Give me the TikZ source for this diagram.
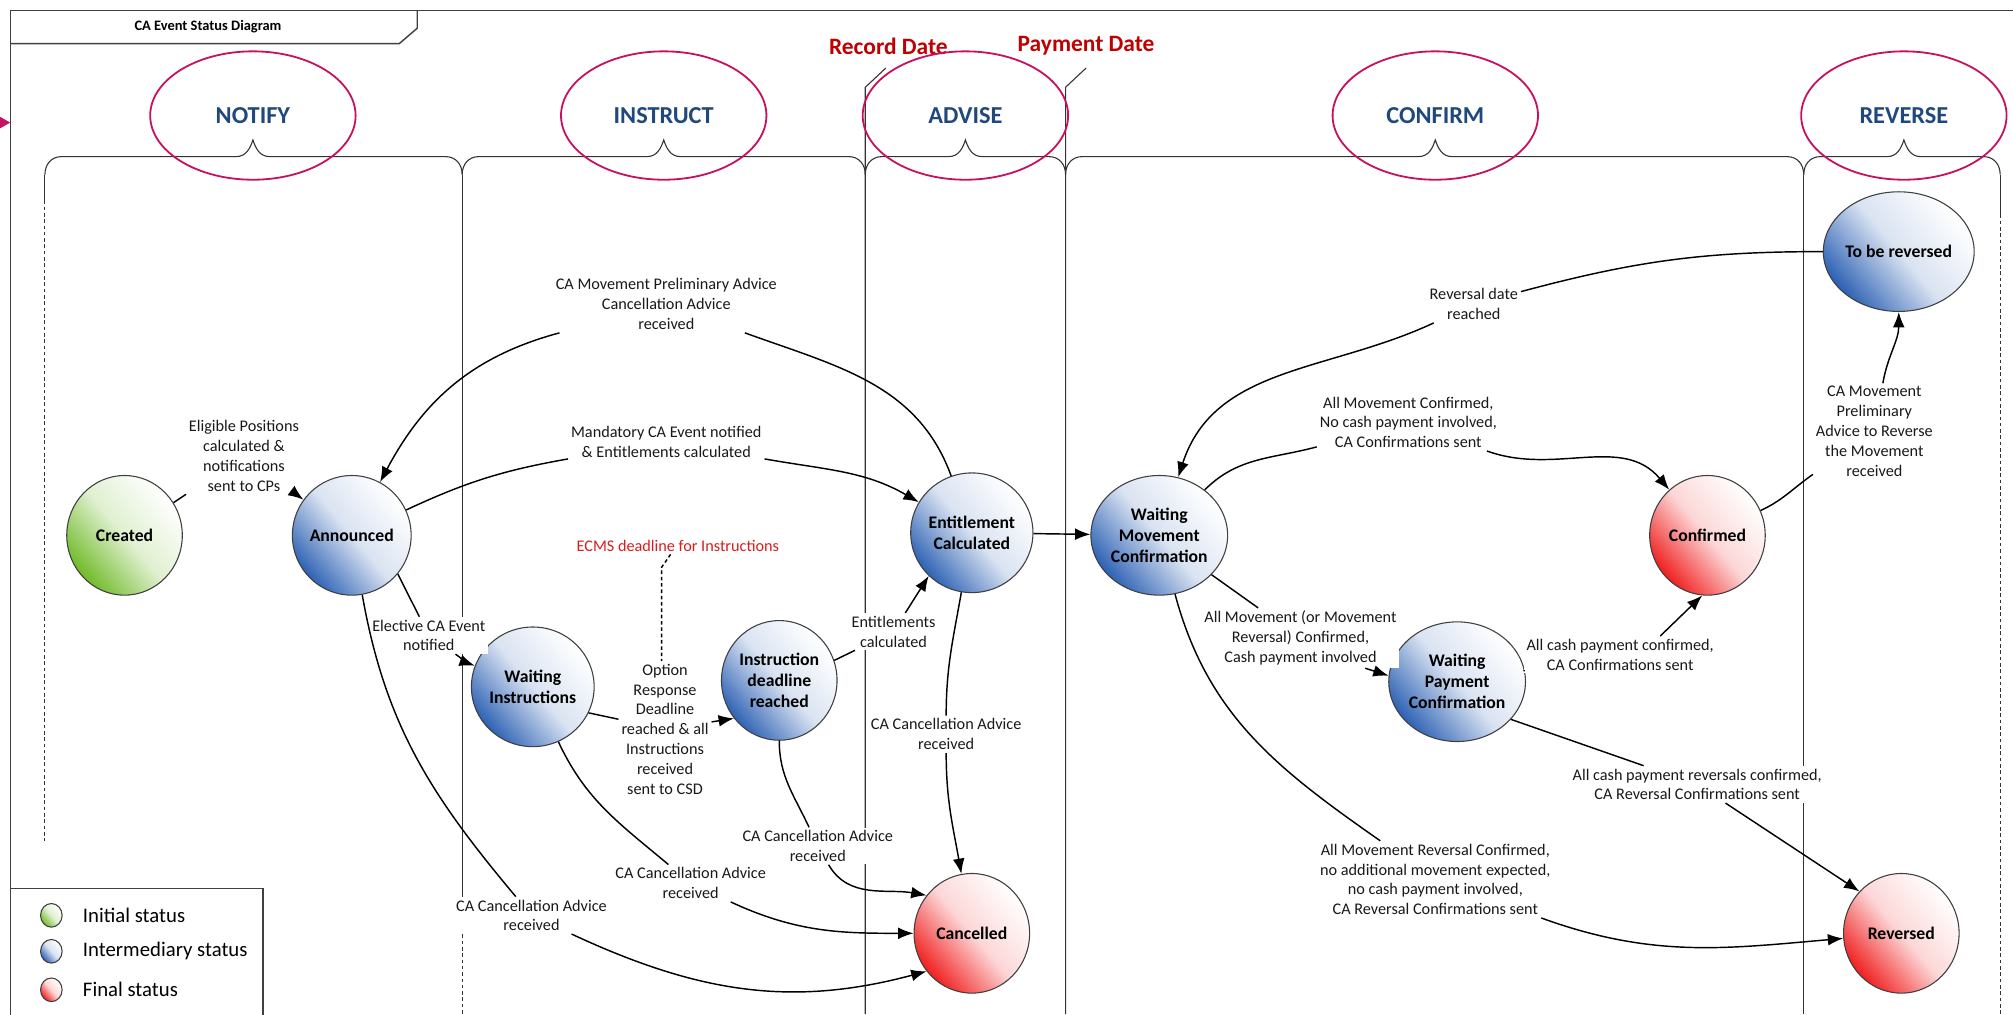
\documentclass[tikz,border=0pt]{standalone}
\usepackage{fontspec}
\setmainfont{Carlito}
\usetikzlibrary{arrows.meta, shapes.geometric}

\definecolor{phasemag}{RGB}{200,16,96}
\definecolor{hdrblue}{RGB}{31,73,125}
\definecolor{datered}{RGB}{192,0,0}
\definecolor{ecmsred}{RGB}{215,30,30}
\definecolor{initgreen}{RGB}{112,186,40}
\definecolor{interblue}{RGB}{46,98,180}
\definecolor{finalred}{RGB}{240,30,30}

\begin{document}
\begin{tikzpicture}[x = 0.25mm, y = 0.25mm, > = {Latex[length = 8.5pt, width = 6.5pt]},
	state/.style = {ellipse, draw = black!75, line width = 0.6pt, minimum width = 22.5mm, minimum height = 23.3mm,
		inner sep = 0pt, align = center, font = \fontsize{9.8}{11.6}\selectfont\bfseries},
	initial/.style = {state, bottom color = initgreen, top color = white, middle color = initgreen!22!white, shading angle = -50},
	inter/.style = {state, bottom color = interblue, top color = white, middle color = interblue!18!white, shading angle = -50},
	final/.style = {state, bottom color = finalred, top color = white, middle color = finalred!18!white, shading angle = -50},
	lbl/.style = {align = center, fill = white, inner sep = 1.5pt, text = black!90, font = \fontsize{9}{11}\selectfont},
	flow/.style = {line width = 0.8pt},
	lane/.style = {line width = 0.6pt, black!80},
	frame/.style = {line width = 0.8pt, black!75},
	phase/.style = {ellipse, draw = phasemag, line width = 1pt, minimum width = 40mm, minimum height = 25mm,
		text = hdrblue, font = \fontsize{13.5}{15}\selectfont\bfseries},
	datelbl/.style = {text = datered, font = \fontsize{13}{15}\selectfont\bfseries}]

	% Definitions

	\def\braceY{668}	% Height of the phase braces
	\def\braceTop{681}	% Height of the brace tips
	\def\braceFoot{654}	% Height where a brace turns down

	\path [use as bounding box] (0, 0) rectangle (1568, 790);
	\clip (0, 0) rectangle (1568, 790);

	% Frame and title tab

	\draw [frame] (8, 0) -- (8, 782) -- (1568, 782);
	\draw [frame] (8, 756) -- (311, 756) -- (325, 768) -- (325, 782);
	\node [font = \fontsize{8}{10}\selectfont\bfseries] (title) at (162, 769) {CA Event Status Diagram};
	\fill [phasemag] (0, 690) -- (8, 694.5) -- (0, 699) -- cycle;

	% Phase braces and lane lines

	\foreach \l/\t/\r in {35/197/360, 360/517/674, 674/752/830, 830/1118/1405, 1405/1483/1558}
		\draw [lane] (\l, \braceFoot) .. controls (\l, \braceY - 6) and (\l + 5, \braceY) .. (\l + 13, \braceY)
			-- (\t - 13, \braceY) .. controls (\t - 5, \braceY) and (\t - 2, \braceY + 7) .. (\t, \braceTop)
			.. controls (\t + 2, \braceY + 7) and (\t + 5, \braceY) .. (\t + 13, \braceY)
			-- (\r - 13, \braceY) .. controls (\r - 5, \braceY) and (\r, \braceY - 6) .. (\r, \braceFoot);

	\draw [lane] (35, \braceFoot) -- (35, 634);
	\draw [lane, dash pattern = on 2pt off 1.5pt] (35, 634) -- (35, 135);
	\draw [lane] (360, \braceFoot) -- (360, 77);
	\draw [lane, dash pattern = on 2pt off 1.5pt] (360, 77) -- (360, 0);
	\draw [lane] (674, 0) -- (674, 722) -- (690, 737);
	\draw [lane] (830, 0) -- (830, 722) -- (846, 737);
	\draw [lane] (1405, \braceFoot) -- (1405, 0);
	\draw [lane] (1558, \braceFoot) -- (1558, 623);
	\draw [lane, dash pattern = on 2pt off 1.5pt] (1558, 623) -- (1558, 0);

	\node [datelbl] (record-date) at (692, 754) {Record Date};
	\node [datelbl] (payment-date) at (846, 754) {Payment Date};

	% Phases

	\node [phase] (notify) at (197, 700) {NOTIFY};
	\node [phase] (instruct) at (517, 700) {INSTRUCT};
	\node [phase] (advise) at (752, 700) {ADVISE};
	\node [phase] (confirm) at (1118, 700) {CONFIRM};
	\node [phase] (reverse) at (1483, 700) {REVERSE};

	% Statuses

	\node [initial] (created) at (97, 373) {Created};
	\node [inter] (announced) at (274, 373) {Announced};
	\node [inter] (wait-instr) at (415, 255) {Waiting\\Instructions};
	\node [inter] (instr-deadline) at (607, 260) {Instruction\\deadline\\reached};
	\node [inter] (entitlement) at (757, 375) {Entitlement\\Calculated};
	\node [final] (cancelled) at (757, 63) {Cancelled};
	\node [inter] (wait-move) at (903, 373) {Waiting\\Movement\\Confirmation};
	\node [inter] (wait-pay) at (1135, 259) {Waiting\\Payment\\Confirmation};
	\node [final] (confirmed) at (1330, 373) {Confirmed};
	\node [inter] (to-reverse) at (1479, 594) {To be reversed};
	\node [final] (reversed) at (1481, 63) {Reversed};

	% Transition labels

	\node [lbl] (l-eligible) at (190, 435) {Eligible Positions\\calculated \&\\notifications\\sent to CPs};
	\node [lbl] (l-mandatory) at (519, 446) {Mandatory CA Event notified\\\& Entitlements calculated};
	\node [lbl] (l-prelim) at (519, 553) {CA Movement Preliminary Advice\\Cancellation Advice\\received};
	\node [lbl] (l-elective) at (334, 295) {Elective CA Event\\notified};
	\node [lbl] (l-cancel-a) at (414, 77) {CA Cancellation Advice\\received};
	\node [lbl] (l-option) at (518, 222) {Option\\Response\\Deadline\\reached \& all\\Instructions\\received\\sent to CSD};
	\node [lbl, text = ecmsred] (l-ecms) at (528, 365) {ECMS deadline for Instructions};
	\node [lbl] (l-ent-calc) at (696, 298) {Entitlements\\calculated};
	\node [lbl] (l-cancel-b) at (538, 102) {CA Cancellation Advice\\received};
	\node [lbl] (l-cancel-c) at (637, 131) {CA Cancellation Advice\\received};
	\node [lbl] (l-cancel-d) at (737, 218) {CA Cancellation Advice\\received};
	\node [lbl] (l-rev-date) at (1148, 553) {Reversal date\\reached};
	\node [lbl] (l-all-conf) at (1097, 461) {All Movement Confirmed,\\No cash payment involved,\\CA Confirmations sent};
	\node [lbl] (l-prelim-rev) at (1460, 454) {CA Movement\\Preliminary\\Advice to Reverse\\the Movement\\received};
	\node [lbl] (l-cash-inv) at (1013, 293) {All Movement (or Movement\\Reversal) Confirmed,\\Cash payment involved};
	\node [lbl] (l-cash-conf) at (1262, 280) {All cash payment confirmed,\\CA Confirmations sent};
	\node [lbl] (l-cash-rev) at (1322, 179) {All cash payment reversals confirmed,\\CA Reversal Confirmations sent};
	\node [lbl] (l-move-rev) at (1118, 105) {All Movement Reversal Confirmed,\\no additional movement expected,\\no cash payment involved,\\CA Reversal Confirmations sent};

	% Transitions

	\draw [flow] (created) -- (l-eligible);
	\draw [flow, ->] (l-eligible) -- (announced);

	\draw [flow] (announced) to [out = 25, in = 190] (l-mandatory);
	\draw [flow, ->] (l-mandatory) to [out = -10, in = 150] (entitlement);

	\draw [flow] (entitlement) to [out = 110, in = -20] (l-prelim);
	\draw [flow, ->] (l-prelim) to [out = 195, in = 62] (announced);

	\draw [flow] (announced.-40) -- (l-elective);
	\draw [flow, ->] (l-elective) to [out = -35, in = 160] (wait-instr);

	\draw [flow] (announced) to [out = -80, in = 130] (l-cancel-a);
	\draw [flow, ->] (l-cancel-a) to [out = -25, in = 195] (cancelled.220);

	\draw [flow] (wait-instr.-25) -- (l-option);
	\draw [flow, ->] (l-option) -- (instr-deadline.220);
	\draw [flow, dash pattern = on 2pt off 1.5pt] ([xshift = -4pt]l-ecms.south) -- ++(-7, -10) coordinate (ecms-bend)
		-- (ecms-bend |- l-option.north);

	\draw [flow] (instr-deadline.20) -- (l-ent-calc);
	\draw [flow, ->] (l-ent-calc) -- (entitlement.225);

	\draw [flow] (instr-deadline) to [out = -90, in = 115] (l-cancel-c);
	\draw [flow, ->] (l-cancel-c) to [out = -60, in = 170] (cancelled.140);

	\draw [flow] (wait-instr) to [out = -65, in = 140] (l-cancel-b);
	\draw [flow, ->] (l-cancel-b) to [out = -25, in = 180] (cancelled);

	\draw [flow] (entitlement) to [out = -100, in = 90] (l-cancel-d);
	\draw [flow, ->] (l-cancel-d) to [out = -90, in = 100] (cancelled);

	\draw [flow, ->] (entitlement) -- (wait-move);

	\draw [flow] (to-reverse) to [out = 180, in = 15] (l-rev-date);
	\draw [flow, ->] (l-rev-date) to [out = 205, in = 72] (wait-move);

	\draw [flow] (wait-move) to [out = 45, in = 195] (l-all-conf);
	\draw [flow, ->] (l-all-conf) to [out = -20, in = 130] (confirmed);

	\draw [flow] (confirmed) to [out = 25, in = 215] (l-prelim-rev);
	\draw [flow, ->] (l-prelim-rev) to [out = 80, in = -90] (to-reverse);

	\draw [flow] (wait-move.-37) -- (l-cash-inv);
	\draw [flow, ->] (l-cash-inv.-25) -- (wait-pay.175);

	\draw [flow] (wait-pay) -- (l-cash-conf);
	\draw [flow, ->] (l-cash-conf.25) -- (confirmed.-95);

	\draw [flow] (wait-pay.-35) -- (l-cash-rev);
	\draw [flow, ->] (l-cash-rev) -- (reversed.135);

	\draw [flow] (wait-move) to [out = -75, in = 145] (l-move-rev);
	\draw [flow, ->] (l-move-rev) to [out = -20, in = 185] (reversed);

	% Legend

	\draw [frame, fill = white] (8, -5) rectangle (205, 98);
	\node [initial, minimum width = 4.2mm, minimum height = 4.6mm] (leg-initial) at (40, 77) {};
	\node [inter, minimum width = 4.2mm, minimum height = 4.6mm] (leg-inter) at (40, 49) {};
	\node [final, minimum width = 4.2mm, minimum height = 4.6mm] (leg-final) at (40, 19) {};
	\node [right = 14pt, font = \fontsize{11.5}{13}\selectfont] at (leg-initial.center) {Initial status};
	\node [right = 14pt, font = \fontsize{11.5}{13}\selectfont] at (leg-inter.center) {Intermediary status};
	\node [right = 14pt, font = \fontsize{11.5}{13}\selectfont] at (leg-final.center) {Final status};

\end{tikzpicture}
\end{document}
